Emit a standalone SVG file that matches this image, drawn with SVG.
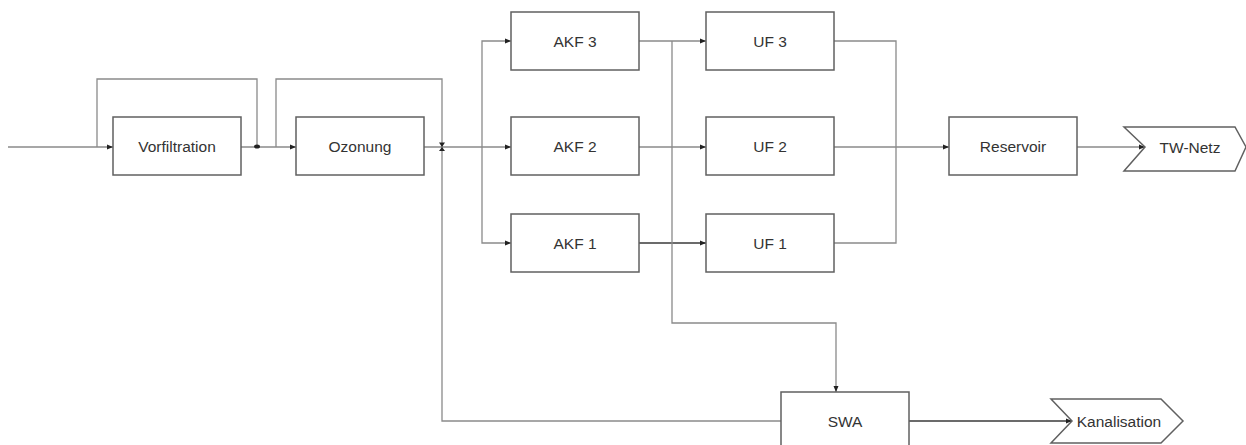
<svg xmlns="http://www.w3.org/2000/svg" width="1246" height="445" viewBox="0 0 1246 445">
<style>
.box{fill:#fff;stroke:#606060;stroke-width:1.5}
.ln{fill:none;stroke:#8a8a8a;stroke-width:1.3}
.dk{fill:none;stroke:#3a3a3a;stroke-width:1.5}
.t{font-family:"Liberation Sans",Arial,sans-serif;font-size:15.5px;fill:#333;text-anchor:middle;dominant-baseline:central}
</style>
<defs>
<marker id="a" viewBox="0 0 6 6" refX="6" refY="3" markerWidth="6" markerHeight="6" markerUnits="userSpaceOnUse" orient="auto">
<path d="M0,0.5 L6,3 L0,5.5 Z" fill="#222"/>
</marker>
</defs>
<g id="connectors">
<path class="ln" d="M8,147 H113" marker-end="url(#a)"/>
<path class="ln" d="M97,147 V79 H257 V147"/>
<path class="ln" d="M241,147 H296" marker-end="url(#a)"/>
<path class="ln" d="M276,147 V79 H442 V147"/>
<path class="ln" d="M424,147 H511" marker-end="url(#a)"/>
<path class="ln" d="M482,147 V41 H511" marker-end="url(#a)"/>
<path class="ln" d="M482,147 V243 H511" marker-end="url(#a)"/>
<path class="ln" d="M442,147 V421 H781"/>
<path class="ln" d="M639,41 H706" marker-end="url(#a)"/>
<path class="ln" d="M639,147 H706" marker-end="url(#a)"/>
<path class="dk" d="M639,243 H706" marker-end="url(#a)"/>
<path class="ln" d="M672,41 V323 H836 V392" marker-end="url(#a)"/>
<path class="ln" d="M834,41 H896 V243 H834"/>
<path class="ln" d="M834,147 H949" marker-end="url(#a)"/>
<path class="ln" d="M1077,147 H1145" marker-end="url(#a)"/>
<path class="dk" d="M909,421 H1072" marker-end="url(#a)"/>
<ellipse cx="257" cy="146.5" rx="3" ry="2" fill="#222"/>
<path d="M439,142.5 H445 L442,147 Z M439,151 H445 L442,147 Z" fill="#222"/>
</g>
<g id="vorfiltration"><rect class="box" x="113" y="117" width="128" height="58"/><text class="t" x="177" y="146">Vorfiltration</text></g>
<g id="ozonung"><rect class="box" x="296" y="117" width="128" height="58"/><text class="t" x="360" y="146">Ozonung</text></g>
<g id="akf3"><rect class="box" x="511" y="12" width="128" height="58"/><text class="t" x="575" y="41">AKF 3</text></g>
<g id="akf2"><rect class="box" x="511" y="117" width="128" height="58"/><text class="t" x="575" y="146">AKF 2</text></g>
<g id="akf1"><rect class="box" x="511" y="214" width="128" height="58"/><text class="t" x="575" y="243">AKF 1</text></g>
<g id="uf3"><rect class="box" x="706" y="12" width="128" height="58"/><text class="t" x="770" y="41">UF 3</text></g>
<g id="uf2"><rect class="box" x="706" y="117" width="128" height="58"/><text class="t" x="770" y="146">UF 2</text></g>
<g id="uf1"><rect class="box" x="706" y="214" width="128" height="58"/><text class="t" x="770" y="243">UF 1</text></g>
<g id="reservoir"><rect class="box" x="949" y="117" width="128" height="58"/><text class="t" x="1013" y="146">Reservoir</text></g>
<g id="swa"><rect class="box" x="781" y="392" width="128" height="58"/><text class="t" x="845" y="421">SWA</text></g>
<g id="tw-netz"><path class="box" d="M1124,127 H1235 L1246,147 L1235,171 H1124 L1145,147 Z"/><text class="t" x="1190" y="147">TW-Netz</text></g>
<g id="kanalisation"><path class="box" d="M1051,399 H1161 L1183,421 L1161,443 H1051 L1072,421 Z"/><text class="t" x="1119" y="421">Kanalisation</text></g>
</svg>
